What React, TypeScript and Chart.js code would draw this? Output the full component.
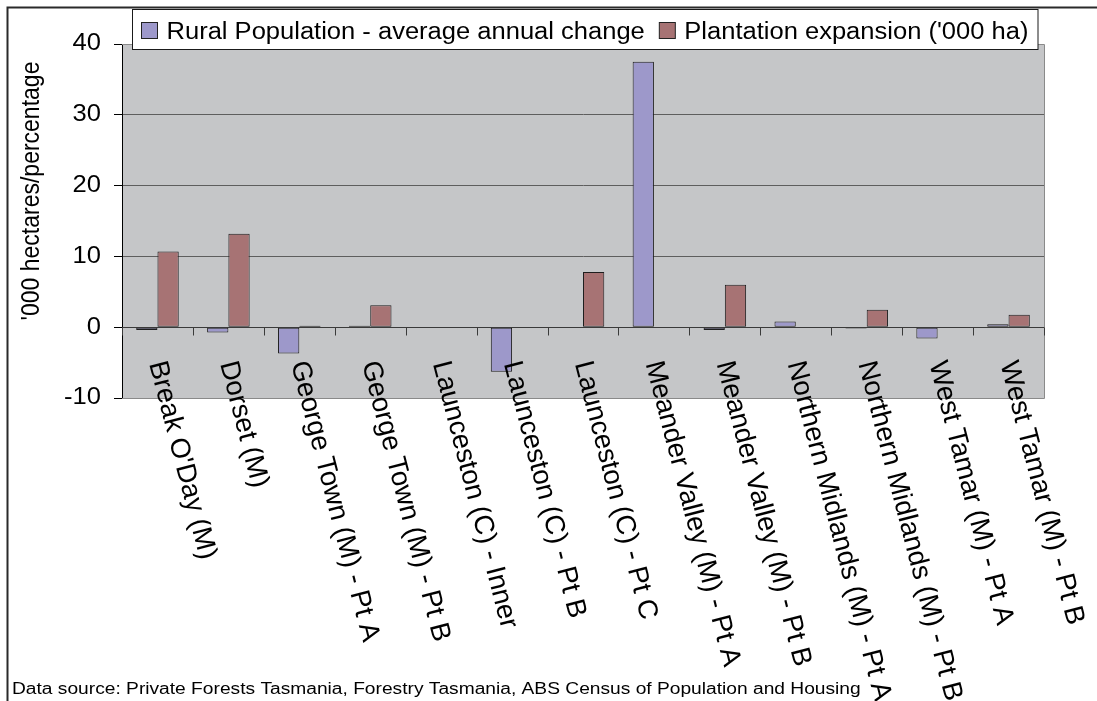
import React, { useEffect, useRef } from "react";
import { Chart, registerables } from "chart.js";

Chart.register(...registerables);

const categories: string[] = [
  "Break O'Day (M)",
  "Dorset (M)",
  "George Town (M) - Pt A",
  "George Town (M) - Pt B",
  "Launceston (C) - Inner",
  "Launceston (C) - Pt B",
  "Launceston (C) - Pt C",
  "Meander Valley (M) - Pt A",
  "Meander Valley (M) - Pt B",
  "Northern Midlands (M) - Pt A",
  "Northern Midlands (M) - Pt B",
  "West Tamar (M) - Pt A",
  "West Tamar (M) - Pt B",
];

const ruralPopulationChange: number[] = [-0.4, -0.75, -3.7, 0.2, 0, -6.3, 0, 37.5, -0.4, 0.8, -0.2, -1.6, 0.4];
const plantationExpansion: number[] = [10.7, 13.2, 0.2, 3.1, 0, 0, 7.8, 0, 6.0, 0, 2.45, 0, 1.75];

const seriesNames: string[] = ["Rural Population - average annual change", "Plantation expansion ('000 ha)"];
const seriesColors: string[] = ["#9d98ca", "#a77374"];

const yMin = -10;
const yMax = 40;
const yStep = 10;
const yTitle = "'000 hectares/percentage";
const footerText = "Data source: Private Forests Tasmania, Forestry Tasmania, ABS Census of Population and Housing";

const FONT = "'Liberation Sans', Arial, sans-serif";
const SX = 1.11; // horizontal stretch of the reference text

const decorPlugin = {
  id: "decor",
  beforeDraw(chart: any) {
    const { ctx, chartArea, width, height } = chart;
    ctx.save();
    ctx.fillStyle = "#ffffff";
    ctx.fillRect(0, 0, width, height);
    ctx.strokeStyle = "#2a2a2a";
    ctx.lineWidth = 2;
    ctx.beginPath();
    ctx.moveTo(7.5, height);
    ctx.lineTo(7.5, 7.5);
    ctx.lineTo(width, 7.5);
    ctx.stroke();
    ctx.fillStyle = "#c5c6c8";
    ctx.fillRect(chartArea.left, chartArea.top, chartArea.right - chartArea.left, chartArea.bottom - chartArea.top);
    ctx.restore();
  },
  afterDatasetsDraw(chart: any) {
    const { ctx, chartArea } = chart;
    const xs = chart.scales.x;
    const ys = chart.scales.y;
    const zeroY = Math.round(ys.getPixelForValue(0)) + 0.5;
    ctx.save();
    // plot border (top, right, bottom)
    ctx.strokeStyle = "#8a8a8a";
    ctx.lineWidth = 1;
    ctx.beginPath();
    ctx.moveTo(chartArea.left, Math.round(chartArea.top) + 0.5);
    ctx.lineTo(Math.round(chartArea.right) + 0.5, Math.round(chartArea.top) + 0.5);
    ctx.lineTo(Math.round(chartArea.right) + 0.5, Math.round(chartArea.bottom) + 0.5);
    ctx.lineTo(chartArea.left, Math.round(chartArea.bottom) + 0.5);
    ctx.stroke();
    // category axis line at zero
    ctx.strokeStyle = "#3a3a3a";
    ctx.beginPath();
    ctx.moveTo(chartArea.left, zeroY);
    ctx.lineTo(chartArea.right, zeroY);
    ctx.stroke();
    for (let i = 0; i <= categories.length; i++) {
      const x = Math.round(xs.getPixelForValue(i - 0.5)) + 0.5;
      ctx.beginPath();
      ctx.moveTo(x, zeroY);
      ctx.lineTo(x, zeroY + 8);
      ctx.stroke();
    }
    // y tick labels
    ctx.fillStyle = "#000";
    ctx.font = `23px ${FONT}`;
    ctx.textAlign = "right";
    ctx.textBaseline = "middle";
    ys.ticks.forEach((t: any) => {
      const y = ys.getPixelForValue(t.value);
      ctx.save();
      ctx.translate(101, y);
      ctx.scale(SX, 1);
      ctx.fillText(String(t.value), 0, 0);
      ctx.restore();
    });
    // rotated category labels
    ctx.font = `27.5px ${FONT}`;
    ctx.textAlign = "left";
    ctx.textBaseline = "middle";
    categories.forEach((label, i) => {
      const x = xs.getPixelForValue(i) - 1;
      const y = zeroY + 34;
      ctx.save();
      ctx.translate(x, y);
      ctx.rotate((75.5 * Math.PI) / 180);
      ctx.fillText(label, 0, 0);
      ctx.restore();
    });
    // y axis title
    ctx.save();
    ctx.translate(32, 191);
    ctx.scale(SX, 1);
    ctx.rotate(-Math.PI / 2);
    ctx.textAlign = "center";
    ctx.textBaseline = "middle";
    ctx.font = `23px ${FONT}`;
    ctx.fillText(yTitle, 0, 0);
    ctx.restore();
    // legend
    const lx = 132.5, ly = 9.5, lw = 905.5, lh = 40;
    ctx.fillStyle = "#ffffff";
    ctx.fillRect(lx, ly, lw, lh);
    ctx.strokeStyle = "#1a1a1a";
    ctx.strokeRect(lx, ly, lw, lh);
    ctx.font = `23px ${FONT}`;
    ctx.textBaseline = "alphabetic";
    ctx.textAlign = "left";
    let cx = 141;
    chart.data.datasets.forEach((ds: any) => {
      ctx.fillStyle = ds.backgroundColor;
      ctx.fillRect(cx + 0.5, 22.5, 16, 16);
      ctx.strokeStyle = "#222";
      ctx.strokeRect(cx + 0.5, 22.5, 16, 16);
      ctx.fillStyle = "#000";
      const tx = cx + 25.5;
      ctx.save();
      ctx.translate(tx, 38.5);
      ctx.scale(SX, 1);
      ctx.fillText(ds.label, 0, 0);
      ctx.restore();
      cx = tx + ctx.measureText(ds.label).width * SX + 14;
    });
    // footer
    ctx.font = `17.3px ${FONT}`;
    ctx.fillStyle = "#000";
    ctx.save();
    ctx.translate(12, 694);
    ctx.scale(SX, 1);
    ctx.fillText(footerText, 0, 0);
    ctx.restore();
    ctx.restore();
  },
};

export default function App() {
  const canvasRef = useRef<HTMLCanvasElement | null>(null);

  useEffect(() => {
    document.body.style.margin = "0";
    const canvas = canvasRef.current;
    if (!canvas) return;
    const chart = new Chart(canvas, {
      type: "bar",
      data: {
        labels: categories,
        datasets: [
          {
            label: seriesNames[0],
            data: ruralPopulationChange,
            backgroundColor: seriesColors[0],
            borderColor: "#1e1e1e",
            borderWidth: 1,
            borderSkipped: false,
            categoryPercentage: 0.6,
            barPercentage: 1,
          },
          {
            label: seriesNames[1],
            data: plantationExpansion,
            backgroundColor: seriesColors[1],
            borderColor: "#1e1e1e",
            borderWidth: 1,
            borderSkipped: false,
            categoryPercentage: 0.6,
            barPercentage: 1,
          },
        ],
      },
      options: {
        animation: false,
        responsive: false,
        devicePixelRatio: 1,
        layout: { padding: { left: 0, top: 44, right: 53, bottom: 303 } },
        plugins: {
          legend: { display: false },
          tooltip: { enabled: false },
        },
        scales: {
          x: {
            type: "category",
            display: false,
            offset: true,
          },
          y: {
            min: yMin,
            max: yMax,
            afterFit: (scale: any) => {
              scale.width = 122;
            },
            ticks: {
              stepSize: yStep,
              display: false,
            },
            grid: {
              color: (c: any) => {
                const v = c.tick ? c.tick.value : null;
                if (v === yMin) return "rgba(0,0,0,0)";
                if (v === 0) return "#333";
                return "#5e5e5e";
              },
              tickColor: "#000",
              tickLength: 8,
              drawTicks: true,
            },
            border: { display: true, color: "#000", width: 1 },
          },
        },
      },
      plugins: [decorPlugin],
    });
    return () => chart.destroy();
  }, []);

  return (
    <div style={{ position: "absolute", left: 0, top: 0, width: 1097, height: 701 }}>
      <canvas ref={canvasRef} width={1097} height={701} style={{ display: "block" }} />
    </div>
  );
}
